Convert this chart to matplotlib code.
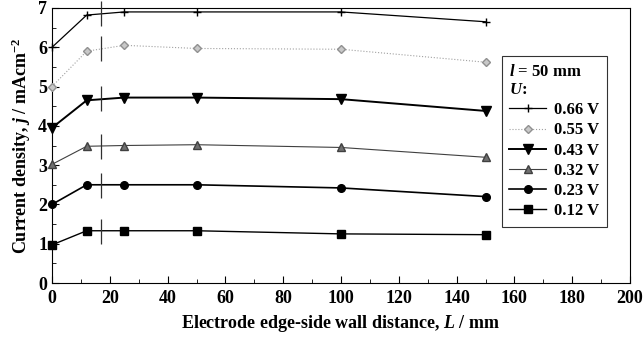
import numpy as np
import matplotlib.pyplot as plt
from matplotlib.ticker import MultipleLocator

plt.rcParams['font.family'] = ['Liberation Serif', 'DejaVu Serif']
plt.rcParams['font.weight'] = 'bold'
plt.rcParams['mathtext.fontset'] = 'custom'
plt.rcParams['mathtext.rm'] = 'Liberation Serif:bold'
plt.rcParams['mathtext.it'] = 'Liberation Serif:bold:italic'

L = [0, 12, 25, 50, 100, 150]
voltages = ['0.66 V', '0.55 V', '0.43 V', '0.32 V', '0.23 V', '0.12 V']
j_066 = [6.0, 6.82, 6.9, 6.9, 6.9, 6.65]
j_055 = [5.0, 5.9, 6.05, 5.97, 5.95, 5.62]
j_043 = [3.95, 4.65, 4.72, 4.72, 4.68, 4.38]
j_032 = [3.02, 3.48, 3.5, 3.52, 3.45, 3.2]
j_023 = [2.0, 2.5, 2.5, 2.5, 2.42, 2.2]
j_012 = [0.97, 1.33, 1.33, 1.33, 1.25, 1.23]

# vertical marks at L = 17 mm
mark_L = 17
mark_j = [6.87, 5.97, 4.7, 3.49, 2.5, 1.33]

series = [j_066, j_055, j_043, j_032, j_023, j_012]
styles = [
    dict(color='black', lw=0.9, ls='-', marker='+', ms=6, mew=1.0),
    dict(color='#a0a0a0', lw=0.8, ls=':', marker='D', ms=4, mfc='#c8c8c8', mec='#909090'),
    dict(color='black', lw=1.4, ls='-', marker='v', ms=6.5),
    dict(color='#404040', lw=0.8, ls='-', marker='^', ms=5.5, mfc='#707070', mec='#404040'),
    dict(color='black', lw=1.2, ls='-', marker='o', ms=5.5),
    dict(color='black', lw=1.0, ls='-', marker='s', ms=5.5),
]

fig = plt.figure(figsize=(6.43, 3.42), dpi=100)
ax = fig.add_axes([52 / 643, 59 / 342, 578 / 643, 275 / 342])

for y, lab, st in zip(series, voltages, styles):
    ax.plot(L, y, label=lab, clip_on=False, zorder=3, **st)

ax.plot([mark_L] * len(mark_j), mark_j, ls='none', marker='|', ms=18, mew=0.9,
        color='#303030', zorder=4, clip_on=False)

ax.set_xlim(0, 200)
ax.set_ylim(0, 7)
ax.xaxis.set_major_locator(MultipleLocator(20))
ax.xaxis.set_minor_locator(MultipleLocator(10))
ax.yaxis.set_major_locator(MultipleLocator(1))
ax.yaxis.set_minor_locator(MultipleLocator(0.5))
ax.tick_params(which='both', direction='in', labelsize=13)
ax.tick_params(which='major', length=5)
ax.tick_params(which='minor', length=3)
ax.tick_params(axis='x', pad=5)
for lbl in ax.get_xticklabels() + ax.get_yticklabels():
    lbl.set_fontweight('bold')

ax.set_xlabel('Electrode edge-side wall distance, $\\mathit{L}$ / mm', fontsize=13, fontweight='bold')
ax.set_ylabel('Current density, $\\mathit{j}$ / mAcm$^{-2}$', fontsize=13, fontweight='bold')

leg = ax.legend(title='$\\mathit{l}$ = 50 mm\n$\\mathit{U}$:', loc='upper left',
                bbox_to_anchor=(0.764, 0.855), fontsize=12, frameon=True, fancybox=False,
                edgecolor='black', handlelength=2.2, labelspacing=0.25, borderpad=0.45,
                handletextpad=0.5, alignment='left')
leg.get_title().set_fontsize(12)
leg.get_title().set_fontweight('bold')
leg.get_frame().set_linewidth(0.8)

fig.savefig('out.png', dpi=100)
